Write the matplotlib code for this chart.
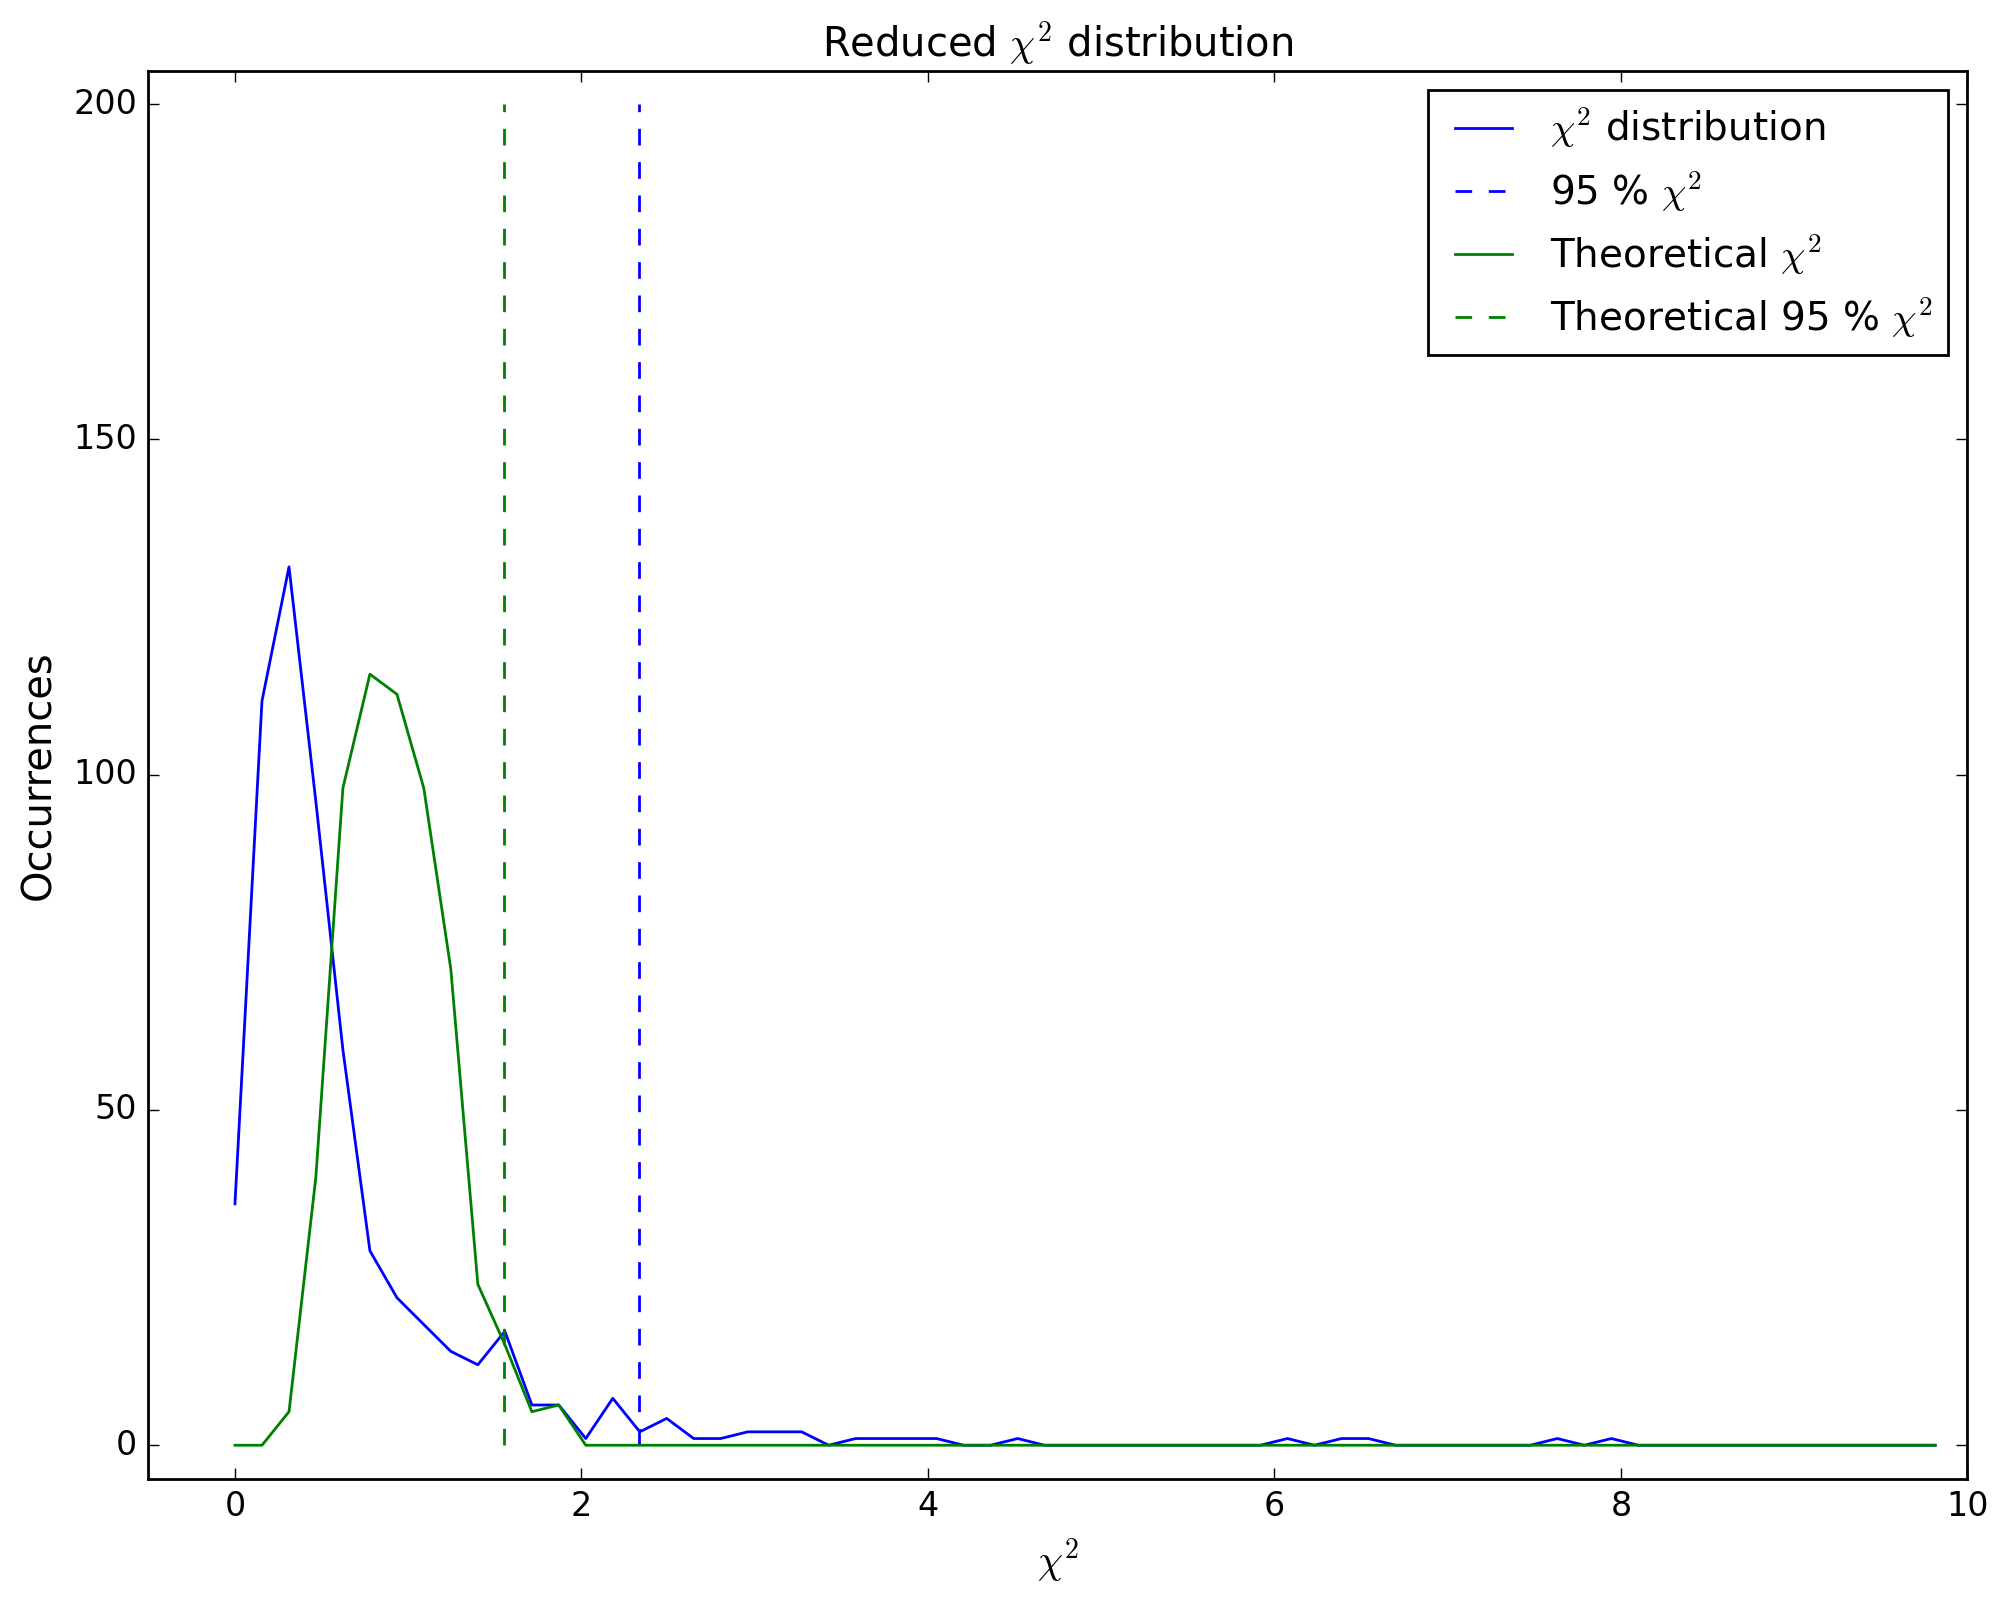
import numpy as np
import matplotlib
matplotlib.use("Agg")
import matplotlib.pyplot as plt

# bin positions (reduced chi^2 values)
chi_bins = [0.000, 0.156, 0.312, 0.467, 0.623, 0.779, 0.935, 1.090,
            1.246, 1.402, 1.558, 1.714, 1.869, 2.025, 2.181, 2.337,
            2.492, 2.648, 2.804, 2.960, 3.116, 3.271, 3.427, 3.583,
            3.739, 3.895, 4.050, 4.206, 4.362, 4.518, 4.673, 4.829,
            4.985, 5.141, 5.297, 5.452, 5.608, 5.764, 5.920, 6.075,
            6.231, 6.387, 6.543, 6.699, 6.854, 7.010, 7.166, 7.322,
            7.477, 7.633, 7.789, 7.945, 8.101, 8.256, 8.412, 8.568,
            8.724, 8.879, 9.035, 9.191, 9.347, 9.503, 9.658, 9.814]

# measured occurrences
measured = [36, 111, 131, 96, 59, 29, 22, 18, 14, 12, 17, 6, 6, 1, 7, 2,
            4, 1, 1, 2, 2, 2, 0, 1, 1, 1, 1, 0, 0, 1, 0, 0,
            0, 0, 0, 0, 0, 0, 0, 1, 0, 1, 1, 0, 0, 0, 0, 0,
            0, 1, 0, 1, 0, 0, 0, 0, 0, 0, 0, 0, 0, 0, 0, 0]

# theoretical occurrences
theoretical = [0, 0, 5, 40, 98, 115, 112, 98, 71, 24, 15, 5, 6, 0, 0, 0,
               0, 0, 0, 0, 0, 0, 0, 0, 0, 0, 0, 0, 0, 0, 0, 0,
               0, 0, 0, 0, 0, 0, 0, 0, 0, 0, 0, 0, 0, 0, 0, 0,
               0, 0, 0, 0, 0, 0, 0, 0, 0, 0, 0, 0, 0, 0, 0, 0]

chi95_measured = 2.335
chi95_theory = 1.555
vline_top = 200

plt.style.use('classic')

fig = plt.figure(figsize=(10.05, 8.015), dpi=200, facecolor='white')
ax = fig.add_subplot(111)
fig.subplots_adjust(left=0.0738, right=0.9788, bottom=0.0775, top=0.9559)

ax.plot(chi_bins, measured, 'b-', label=r'$\chi^2$ distribution')
ax.plot([chi95_measured, chi95_measured], [0, vline_top], 'b--', label=r'95 % $\chi^2$')
ax.plot(chi_bins, theoretical, 'g-', label=r'Theoretical $\chi^2$')
ax.plot([chi95_theory, chi95_theory], [0, vline_top], 'g--', label=r'Theoretical 95 % $\chi^2$')

ax.set_xlim(-0.5, 10)
ax.set_ylim(-5, 205)
ax.set_yticks([0, 50, 100, 150, 200])

ax.set_title(r'Reduced $\chi^2$ distribution')
ax.set_xlabel(r'$\chi^2$', fontsize='large')
ax.set_ylabel('Occurrences', fontsize='large')
ax.legend(loc='upper right', fontsize=14, labelspacing=0.47,
          handlelength=2.08, handletextpad=0.66)

fig.savefig('out.png', dpi=200, facecolor='white')
